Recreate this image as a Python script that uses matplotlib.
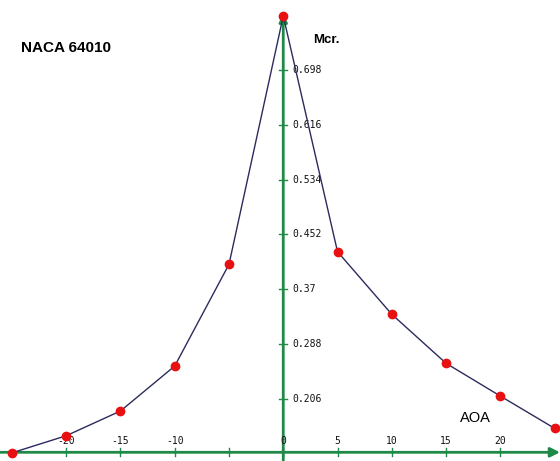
import matplotlib
matplotlib.use("Agg")
import matplotlib.pyplot as plt

aoa = [-25, -20, -15, -10, -5, 0, 5, 10, 15, 20, 25]
mcr = [0.125, 0.1506, 0.1876, 0.2549, 0.4071, 0.7787, 0.426, 0.3323, 0.259, 0.210, 0.1617]
xticks = [-20, -15, -10, -5, 0, 5, 10, 15, 20]
xtick_labels = ["-20", "-15", "-10", "", "0", "5", "10", "15", "20"]
yticks = [0.206, 0.288, 0.37, 0.452, 0.534, 0.616, 0.698]
ytick_labels = ["0.206", "0.288", "0.37", "0.452", "0.534", "0.616", "0.698"]

green = "#1f8a48"
fig = plt.figure(figsize=(5.6, 4.61), dpi=100)
ax = fig.add_axes([0, 0, 1, 1])
xmin, xmax = -26.1, 25.5
ymin, ymax = 0.1128, 0.8026
y0 = 0.1258
ax.set_xlim(xmin, xmax)
ax.set_ylim(ymin, ymax)
ax.axis("off")

# axes with arrows
ax.annotate("", xy=(xmax, y0), xytext=(xmin, y0),
            arrowprops=dict(arrowstyle="-|>", color=green, lw=2.0, mutation_scale=14,
                            shrinkA=0, shrinkB=0), zorder=2)
ax.annotate("", xy=(0, 0.782), xytext=(0, ymin),
            arrowprops=dict(arrowstyle="-|>", color=green, lw=2.0, mutation_scale=12,
                            shrinkA=0, shrinkB=0), zorder=2)

# ticks
dy = 4 / 668.3
dx = 4 / 10.85
for xt, lab in zip(xticks, xtick_labels):
    ax.plot([xt, xt], [y0 - dy, y0 + dy], color=green, lw=1, zorder=2)
    if lab:
        ax.text(xt, y0 + 11 / 668.3, lab, ha="center", va="center",
                fontsize=7, family="DejaVu Sans Mono", color="#111111")
for yt, lab in zip(yticks, ytick_labels):
    ax.plot([-dx, dx], [yt, yt], color=green, lw=1, zorder=2)
    ax.text(0.8, yt, lab, ha="left", va="center",
            fontsize=7, family="DejaVu Sans Mono", color="#111111")

ax.plot(aoa, mcr, color="#2b2b5e", lw=1, zorder=3)
ax.plot(aoa, mcr, "o", color="#e81010", markersize=6, zorder=4, clip_on=False)

ax.text(0.038, 0.896, "NACA 64010", transform=ax.transAxes, fontsize=11,
        fontweight="bold", family="Liberation Sans", va="center", ha="left")
ax.text(313 / 560, 1 - 40 / 461, "Mcr.", transform=ax.transAxes, fontsize=9.5,
        fontweight="bold", family="Liberation Sans", va="center", ha="left")
ax.text(460 / 560, 1 - 418 / 461, "AOA", transform=ax.transAxes, fontsize=10.5,
        family="Liberation Sans", va="center", ha="left")

fig.savefig("out.png", dpi=100, facecolor="white")
